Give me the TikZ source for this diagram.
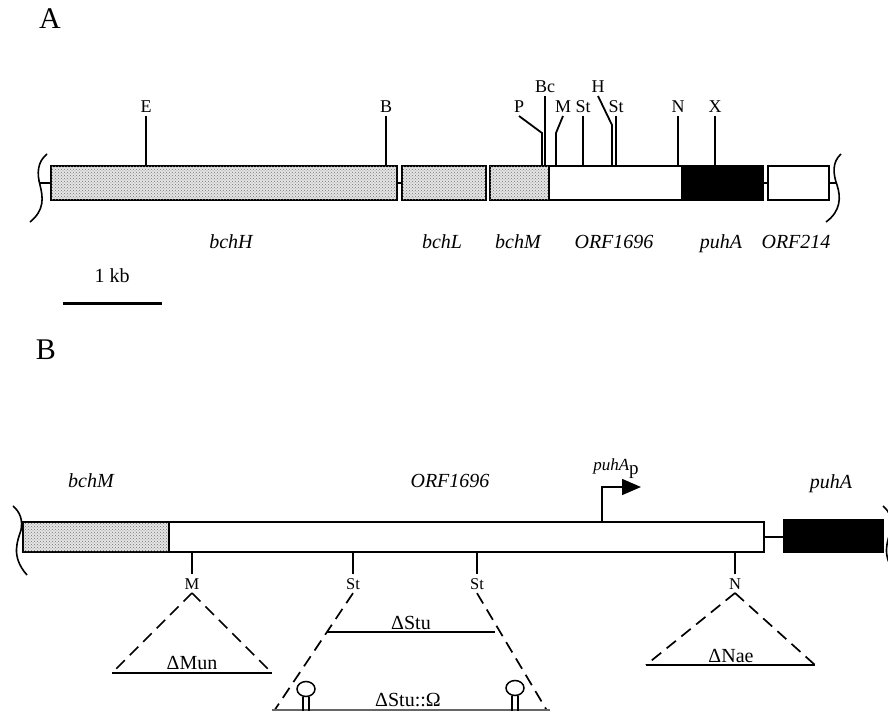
\documentclass[tikz,border=0pt]{standalone}
\usepackage{fontspec}
\setmainfont{Liberation Serif}
\usetikzlibrary{
  shapes.geometric,
  arrows.meta,
  positioning,
  patterns,
  calc
}
\tikzset{
  %%── 基因框 ─────────────────────────────────────────────
  gene/.style = {
    rectangle, draw = black, line width = 1.6pt,
    inner sep = 0pt, minimum height = 34pt
  },
  stip/.style = {gene, fill = black!10,
    postaction = {pattern = crosshatch dots, pattern color = black!55}},
  wbox/.style = {gene, fill = white},
  blk/.style  = {gene, fill = black},
  %%── 线条 ───────────────────────────────────────────────
  link/.style    = {line width = 1.5pt},
  site/.style    = {line width = 1.8pt},
  brk/.style     = {line width = 1.6pt},
  del/.style     = {line width = 1.7pt, dash pattern = on 12pt off 7pt},
  delbase/.style = {line width = 1.5pt},
  %%── 文字 ───────────────────────────────────────────────
  glab/.style  = {font = \fontsize{20}{20}\selectfont\itshape, anchor = base, inner sep = 0pt},
  slab/.style  = {font = \fontsize{18}{18}\selectfont, anchor = base, inner sep = 0pt, outer sep = 3pt},
  sslab/.style = {font = \fontsize{16.5}{16.5}\selectfont, anchor = base, inner sep = 0pt, outer sep = 4pt},
  dlab/.style  = {font = \fontsize{20}{20}\selectfont, anchor = base, inner sep = 0pt},
  plab/.style  = {font = \fontsize{30}{30}\selectfont, inner sep = 0pt},
  hpin/.style  = {ellipse, draw, line width = 1.5pt, minimum width = 18pt,
    minimum height = 15pt, inner sep = 0pt},
}

\begin{document}
\begin{tikzpicture}[x = 1pt, y = -1pt]
  \useasboundingbox (0,0) rectangle (888,711);

  %% ── A：基因簇 ───────────────────────────────────────
  \node[plab] (pA) at (50,19) {A};

  \node[stip, minimum width = 346pt] (bchH)   at (224,183)   {};
  \node[stip, minimum width = 84pt]  (bchL)   at (444,183)   {};
  \node[stip, minimum width = 59pt]  (bchM)   at (519.5,183) {};
  \node[wbox, minimum width = 133pt] (orf)    at (615.5,183) {};
  \node[blk,  minimum width = 79pt]  (puhA)   at (723.5,183) {};
  \node[wbox, minimum width = 61pt]  (orf214) at (798.5,183) {};

  \coordinate (brkAl) at (40,183);
  \coordinate (brkAr) at (837,183);
  \draw[link] (brkAl)       -- (bchH.west);
  \draw[link] (bchH.east)   -- (bchL.west);
  \draw[link] (orf.east)    -- (puhA.west);
  \draw[link] (puhA.east)   -- (orf214.west);
  \draw[link] (orf214.east) -- (brkAr);

  \draw[brk] (47,154) .. controls (37,162) and (37,174) .. (40,185)
                      .. controls (43,197) and (45,210) .. (30,222);
  \draw[brk] (841,154) .. controls (832,162) and (833,174) .. (837,185)
                       .. controls (841,197) and (841,211) .. (826,222);

  %% 酶切位点（竖直）
  \foreach \x/\t/\n in {146/E/E, 386/B/B, 583/St/Sa, 616/St/Sb, 678/N/N, 715/X/X} {
    \coordinate (a\n) at (\x,166);
    \node[slab] (l\n) at (\x,113) {\t};
    \draw[site] (a\n) -- (l\n.south);
  }
  %% 酶切位点（折线）
  \node[slab] (lP)  at (519,113) {P};
  \node[slab] (lBc) at (545,93)  {Bc};
  \node[slab] (lM)  at (563,113) {M};
  \node[slab] (lH)  at (598,93)  {H};
  \coordinate (aP)  at (542,166);
  \coordinate (aBc) at (545,166);
  \coordinate (aM)  at (556,166);
  \coordinate (aH)  at (612,166);
  \draw[site] (aP)  -- (542,133) -- (lP.south);
  \draw[site] (aBc) -- (lBc.south);
  \draw[site] (aM)  -- (556,133) -- (lM.south);
  \draw[site] (aH)  -- (612,125) -- (lH.south);

  %% 基因名
  \node[glab] (tH)   at (231,248) {bchH};
  \node[glab] (tL)   at (442,248) {bchL};
  \node[glab] (tM)   at (518,248) {bchM};
  \node[glab] (tO)   at (614,248) {ORF1696};
  \node[glab] (tP)   at (721,248) {puhA};
  \node[glab] (t214) at (796,248) {ORF214};

  %% 比例尺
  \node[dlab] (kb) at (112,282) {1 kb};
  \coordinate (sb1) at (63,303);
  \coordinate (sb2) at (162,303);
  \draw[line width = 3pt] (sb1) -- (sb2);

  %% ── B：缺失构建 ─────────────────────────────────────
  \node[plab] (pB) at (46,350) {B};

  \node[stip, minimum width = 146pt, minimum height = 30pt] (bM) at (96,537)    {};
  \node[wbox, minimum width = 595pt, minimum height = 30pt] (bO) at (466.5,537) {};
  \node[blk,  minimum width = 99pt,  minimum height = 32pt] (bP) at (833.5,536) {};
  \draw[link] (bO.east) -- (bO.east -| bP.west);

  \draw[brk] (13,506) .. controls (20,512) and (23,520) .. (21,530)
                      .. controls (18,540) and (10,556) .. (27,575);
  \draw[brk] (883,506) .. controls (890,512) and (893,520) .. (891,530)
                       .. controls (888,540) and (880,556) .. (897,575);

  \node[glab] (uM) at (91,487)  {bchM};
  \node[glab] (uO) at (450,487) {ORF1696};
  \node[glab] (uP) at (831,488) {puhA};

  %% 启动子
  \coordinate (prm)  at (602,522);
  \coordinate (prmT) at (641,487);
  \draw[line width = 1.6pt, -{Triangle[length = 19pt, width = 16pt]}] (prm) |- (prmT);
  \node[anchor = base, inner sep = 0pt] (uPp) at (616,470)
    {{\fontsize{17}{17}\selectfont\itshape puhA}\raisebox{-4pt}{\fontsize{19}{19}\selectfont p}};

  %% 位点
  \foreach \x/\t/\n in {192/M/M, 353/St/Sa, 477/St/Sb, 735/N/N} {
    \coordinate (b\n) at (\x,552);
    \node[sslab] (m\n) at (\x,589) {\t};
    \draw[site] (b\n) -- (m\n.north);
  }

  %% ΔMun
  \coordinate (mun1) at (112,673);
  \coordinate (mun2) at (272,673);
  \draw[del] (mM.south) -- (mun1);
  \draw[del] (mM.south) -- (mun2);
  \draw[delbase] (mun1) -- (mun2);
  \node[dlab] (dMun) at (192,669) {ΔMun};

  %% ΔStu 与 ΔStu::Ω
  \coordinate (stu1) at (272,714);
  \coordinate (stu2) at (549,714);
  \draw[del] (mSa.south) -- (stu1);
  \draw[del] (mSb.south) -- (stu2);
  \coordinate (stuL) at (327,632);
  \coordinate (stuR) at (495,632);
  \draw[delbase] (stuL) -- (stuR);
  \node[dlab] (dStu) at (411,629) {ΔStu};
  \coordinate (omL) at (272,710);
  \coordinate (omR) at (550,710);
  \draw[line width = 1.5pt, black!60] (omL) -- (omR);
  \node[dlab] (dOm) at (408,706) {ΔStu::Ω};
  \node[hpin] (hp1) at (306,689) {};
  \node[hpin] (hp2) at (515,688) {};
  \foreach \h in {hp1, hp2} {
    \draw[line width = 1.4pt] ([xshift = -3pt]\h.south) -- ++(0,16);
    \draw[line width = 1.4pt] ([xshift = 3pt]\h.south)  -- ++(0,16);
  }

  %% ΔNae
  \coordinate (nae1) at (646,665);
  \coordinate (nae2) at (815,665);
  \draw[del] (mN.south) -- (nae1);
  \draw[del] (mN.south) -- (nae2);
  \draw[delbase] (nae1) -- (nae2);
  \node[dlab] (dNae) at (731,662) {ΔNae};

\end{tikzpicture}
\end{document}
